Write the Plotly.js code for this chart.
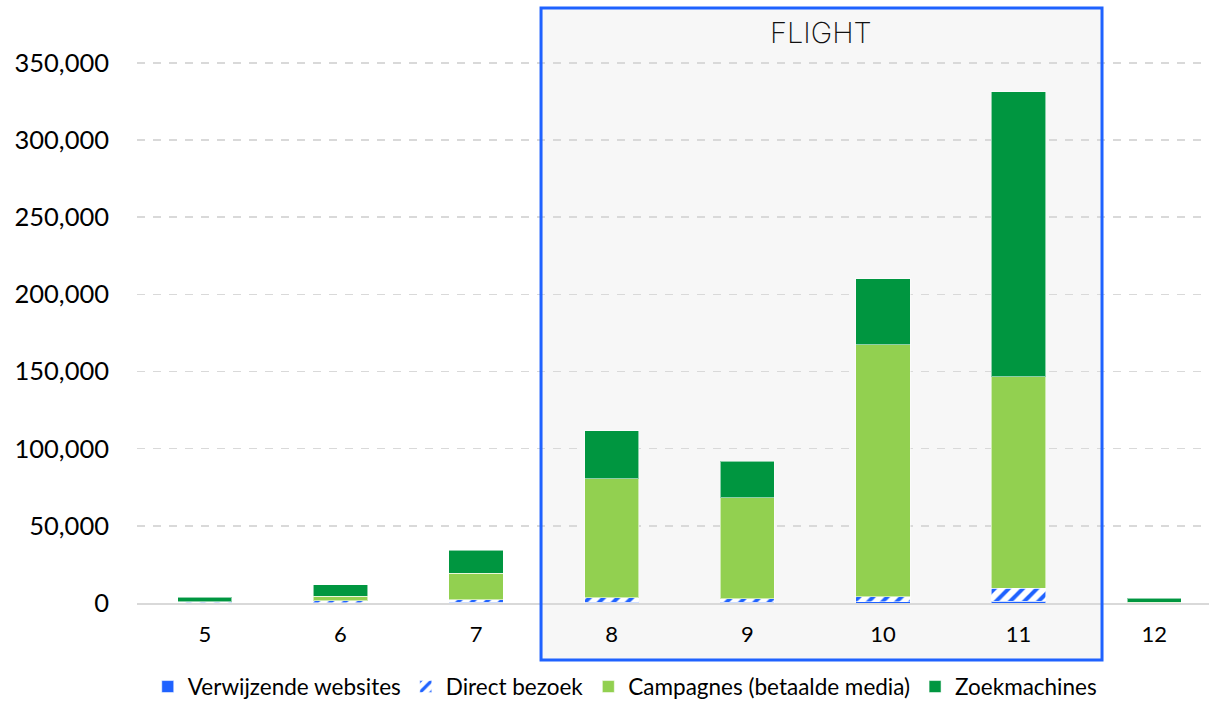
<!DOCTYPE html>
<html>
<head>
<meta charset="utf-8">
<script src="https://cdn.plot.ly/plotly-3.0.1.min.js"></script>
<style>html,body{margin:0;padding:0;background:#fff;}#chart{width:1209px;height:701px;}</style>
</head>
<body>
<div id="chart"></div>
<script>
const months = ['5','6','7','8','9','10','11','12'];
const verwijzende = [200, 300, 500, 600, 500, 700, 1000, 100];
const direct = [300, 1200, 1500, 2800, 2100, 3200, 8700, 200];
const campagnes = [300, 3000, 17200, 77000, 65500, 163300, 136800, 200];
const zoekmachines = [2900, 7200, 15100, 31100, 23900, 42800, 184700, 2700];
const seriesNames = ['Verwijzende websites', 'Direct bezoek', 'Campagnes (betaalde media)', 'Zoekmachines'];
const tickVals = [0, 50000, 100000, 150000, 200000, 250000, 300000, 350000];
const tickText = ['0', '50,000', '100,000', '150,000', '200,000', '250,000', '300,000', '350,000'];

const BLUE = '#1F62FF';
const edge = {color: 'rgba(255,255,255,0.55)', width: 1};
const FONT = 'Lato, "Open Sans", sans-serif';

const traces = [
  {type: 'bar', name: seriesNames[0], x: months, y: verwijzende,
   marker: {color: BLUE, line: edge}},
  {type: 'bar', name: seriesNames[1], x: months, y: direct,
   marker: {color: '#ffffff', line: edge,
            pattern: {shape: '/', fgcolor: BLUE, bgcolor: '#ffffff', size: 10, solidity: 0.4}}},
  {type: 'bar', name: seriesNames[2], x: months, y: campagnes,
   marker: {color: '#92D050', line: edge}},
  {type: 'bar', name: seriesNames[3], x: months, y: zoekmachines,
   marker: {color: '#009640', line: edge}}
];

const layout = {
  width: 1209, height: 701,
  margin: {l: 137, r: 0, t: 32, b: 98, autoexpand: false},
  paper_bgcolor: '#ffffff',
  plot_bgcolor: 'rgba(0,0,0,0)',
  barmode: 'stack',
  bargap: 0.6,
  showlegend: true,
  font: {family: FONT, color: '#000000'},
  xaxis: {
    type: 'category',
    range: [-0.5, 7.404],
    showgrid: false,
    zeroline: false,
    showline: true, linecolor: '#D9D9D9', linewidth: 2,
    ticks: '',
    ticklabelstandoff: 11,
    tickfont: {family: FONT, size: 22, color: '#000000'},
    fixedrange: true
  },
  yaxis: {
    range: [0, 370000],
    tickvals: tickVals,
    ticktext: tickText,
    showgrid: true, gridcolor: '#D9D9D9', griddash: '8px,8px', gridwidth: 1.5,
    zeroline: false,
    showline: false,
    ticks: '',
    ticklabelstandoff: 27,
    tickfont: {family: FONT, size: 25.5, color: '#000000'},
    fixedrange: true
  },
  legend: {
    orientation: 'h',
    x: 0.455, xanchor: 'center',
    y: -0.147, yanchor: 'middle',
    traceorder: 'normal',
    itemgap: 14,
    font: {family: FONT, size: 22.5, color: '#000000'},
    itemclick: false
  },
  shapes: [
    {type: 'rect', xref: 'paper', yref: 'paper', layer: 'below',
     x0: 0.3769, x1: 0.9002, y0: -0.0998, y1: 1.042,
     fillcolor: '#F7F7F7', line: {width: 0}},
    {type: 'rect', xref: 'paper', yref: 'paper', layer: 'above',
     x0: 0.3769, x1: 0.9002, y0: -0.0998, y1: 1.042,
     fillcolor: 'rgba(0,0,0,0)', line: {color: BLUE, width: 3}}
  ],
  annotations: [
    {xref: 'paper', yref: 'paper', x: 0.6385, y: 1.0, yanchor: 'middle', xanchor: 'center',
     showarrow: false, text: 'FLIGHT',
     font: {family: 'Inter, Lato, sans-serif', size: 29, weight: 200, color: '#111111'}}
  ]
};

Plotly.newPlot('chart', traces, layout, {displayModeBar: false, staticPlot: true});
</script>
</body>
</html>
